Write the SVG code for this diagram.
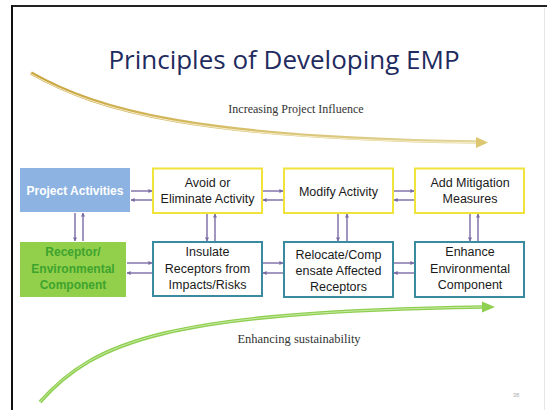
<svg xmlns="http://www.w3.org/2000/svg" width="547" height="410" viewBox="0 0 547 410">
<defs>
<style>
.t{font-family:"Liberation Sans",Arial,sans-serif;font-size:12.5px;fill:#1a1a1a;text-anchor:middle}
.yb{fill:#ffffff;stroke:#f0e43c;stroke-width:2}
.tb{fill:#ffffff;stroke:#3a8aa0;stroke-width:2}
.c{stroke:#7a6aa4;stroke-width:1.4;fill:none;marker-end:url(#ah)}
</style>
<marker id="ah" viewBox="0 0 10 10" refX="9" refY="5" markerWidth="4" markerHeight="4" orient="auto" markerUnits="userSpaceOnUse">
<path d="M0,0 L10,5 L0,10 z" fill="#7a6aa4"/>
</marker>
<linearGradient id="gold" x1="0" y1="0" x2="1" y2="0">
<stop offset="0" stop-color="#c9a43e"/>
<stop offset="0.5" stop-color="#d8c170"/>
<stop offset="1" stop-color="#e2d69c"/>
</linearGradient>
</defs>
<rect width="547" height="410" fill="#ffffff"/>
<line x1="11" y1="6" x2="547" y2="6" stroke="#222" stroke-width="2"/>
<line x1="12" y1="5" x2="12" y2="410" stroke="#111" stroke-width="2"/>
<line x1="544.5" y1="8" x2="544.5" y2="410" stroke="#e6e6e6" stroke-width="1"/>

<text x="284" y="69" font-family="'Open Sans','Liberation Sans',sans-serif" font-size="26" fill="#1f2b5e" text-anchor="middle">Principles of Developing EMP</text>

<g id="gold-arrow">
<path d="M31,73 C100,112 200,138 478,142" stroke="url(#gold)" stroke-width="3.6" fill="none"/>
<path d="M31,73 C100,112 200,138 478,142" stroke="#f6eec8" stroke-width="1" fill="none" transform="translate(0,0.8)"/>
<path d="M476,137 L488,142.5 L476,148 z" fill="#ddc670"/>
</g>
<text x="296" y="113" font-family="'Liberation Serif',serif" font-size="12" fill="#333" text-anchor="middle">Increasing Project Influence</text>

<g id="green-arrow">
<path d="M40,402 C95,340 170,312 484,307" stroke="#8fcf50" stroke-width="3.6" fill="none"/>
<path d="M40,402 C95,340 170,312 484,307" stroke="#c9eaa6" stroke-width="1" fill="none"/>
<path d="M482,301.5 L495,307 L482,312.5 z" fill="#8fcf50"/>
</g>
<text x="299" y="343" font-family="'Liberation Serif',serif" font-size="12.5" fill="#333" text-anchor="middle">Enhancing sustainability</text>

<text x="516" y="397" font-family="'Liberation Sans',sans-serif" font-size="6" fill="#b0b0b0" text-anchor="middle">38</text>

<g id="project-activities">
<rect x="20" y="168" width="110" height="44" fill="#8db3e2"/>
<text x="75" y="195" font-family="'Liberation Sans',sans-serif" font-size="12" font-weight="bold" fill="#ffffff" text-anchor="middle">Project Activities</text>
</g>
<g id="avoid">
<rect class="yb" x="153" y="168.5" width="109" height="44.5"/>
<text class="t" x="207.5" y="187">Avoid or</text>
<text class="t" x="207.5" y="203">Eliminate Activity</text>
</g>
<g id="modify">
<rect class="yb" x="284" y="168.5" width="109" height="44.5"/>
<text class="t" x="338.5" y="196">Modify Activity</text>
</g>
<g id="mitigation">
<rect class="yb" x="415" y="168.5" width="109" height="44.5"/>
<text class="t" x="470" y="187">Add Mitigation</text>
<text class="t" x="470" y="203">Measures</text>
</g>
<g id="receptor">
<rect x="20" y="242" width="106" height="55" fill="#92cf4a"/>
<g font-family="'Liberation Sans',sans-serif" font-size="12" font-weight="bold" fill="#3ea42e" text-anchor="middle">
<text x="73" y="256">Receptor/</text>
<text x="73" y="272.5">Environmental</text>
<text x="73" y="289">Component</text>
</g>
</g>
<g id="insulate">
<rect class="tb" x="153" y="242" width="109" height="54"/>
<text class="t" x="207.5" y="256">Insulate</text>
<text class="t" x="207.5" y="272.5">Receptors from</text>
<text class="t" x="207.5" y="289">Impacts/Risks</text>
</g>
<g id="relocate">
<rect class="tb" x="284" y="242" width="109" height="55"/>
<text class="t" x="338.5" y="259">Relocate/Comp</text>
<text class="t" x="338.5" y="275">ensate Affected</text>
<text class="t" x="338.5" y="291">Receptors</text>
</g>
<g id="enhance">
<rect class="tb" x="415" y="242" width="109" height="55"/>
<text class="t" x="470" y="256">Enhance</text>
<text class="t" x="470" y="272.5">Environmental</text>
<text class="t" x="470" y="289">Component</text>
</g>

<g id="connectors">
<line class="c" x1="131" y1="191" x2="152" y2="191"/>
<line class="c" x1="152" y1="200" x2="131" y2="200"/>
<line class="c" x1="263" y1="191" x2="283" y2="191"/>
<line class="c" x1="283" y1="200" x2="263" y2="200"/>
<line class="c" x1="394" y1="191" x2="414" y2="191"/>
<line class="c" x1="414" y1="200" x2="394" y2="200"/>
<line class="c" x1="127" y1="263" x2="152" y2="263"/>
<line class="c" x1="152" y1="273" x2="127" y2="273"/>
<line class="c" x1="263" y1="263" x2="283" y2="263"/>
<line class="c" x1="283" y1="273" x2="263" y2="273"/>
<line class="c" x1="394" y1="263" x2="414" y2="263"/>
<line class="c" x1="414" y1="273" x2="394" y2="273"/>
<line class="c" x1="75" y1="213" x2="75" y2="241"/>
<line class="c" x1="83" y1="241" x2="83" y2="213"/>
<line class="c" x1="207" y1="214" x2="207" y2="241"/>
<line class="c" x1="215" y1="241" x2="215" y2="214"/>
<line class="c" x1="338" y1="214" x2="338" y2="241"/>
<line class="c" x1="347" y1="241" x2="347" y2="214"/>
<line class="c" x1="470" y1="214" x2="470" y2="241"/>
<line class="c" x1="478" y1="241" x2="478" y2="214"/>
</g>
</svg>
